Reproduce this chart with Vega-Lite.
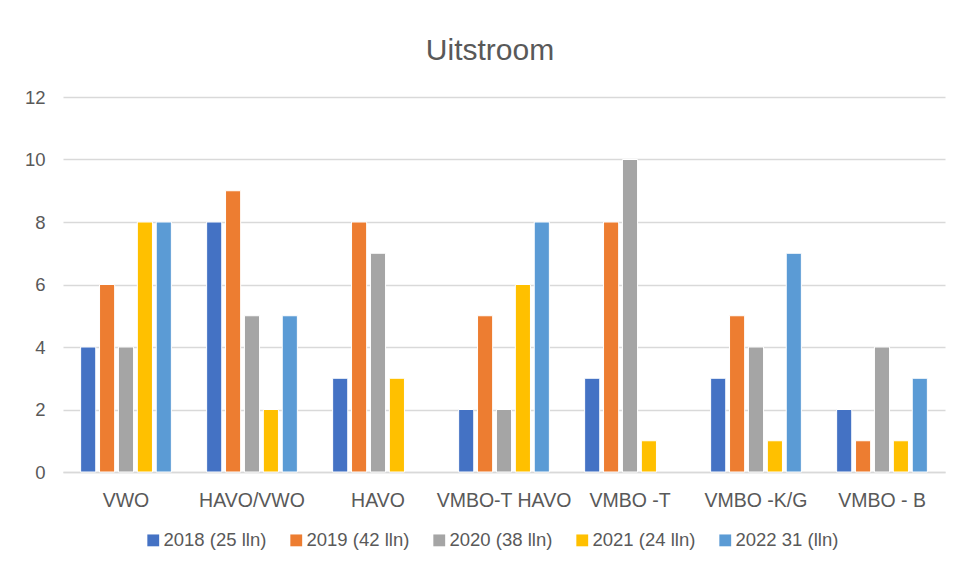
{
  "$schema": "https://vega.github.io/schema/vega-lite/v6.json",
  "width": 882,
  "height": 375,
  "autosize": {"type": "none"},
  "padding": {"left": 63, "top": 97, "right": 12, "bottom": 93},
  "background": "white",
  "title": {
    "text": "Uitstroom",
    "fontSize": 30,
    "font": "Liberation Sans",
    "fontWeight": "normal",
    "color": "#595959",
    "anchor": "middle",
    "offset": 22,
    "dx": -14
  },
  "data": {
    "values": [
      {"cat": "VWO", "serie": "2018 (25 lln)", "value": 4},
      {"cat": "VWO", "serie": "2019 (42 lln)", "value": 6},
      {"cat": "VWO", "serie": "2020 (38 lln)", "value": 4},
      {"cat": "VWO", "serie": "2021 (24 lln)", "value": 8},
      {"cat": "VWO", "serie": "2022 31 (lln)", "value": 8},
      {"cat": "HAVO/VWO", "serie": "2018 (25 lln)", "value": 8},
      {"cat": "HAVO/VWO", "serie": "2019 (42 lln)", "value": 9},
      {"cat": "HAVO/VWO", "serie": "2020 (38 lln)", "value": 5},
      {"cat": "HAVO/VWO", "serie": "2021 (24 lln)", "value": 2},
      {"cat": "HAVO/VWO", "serie": "2022 31 (lln)", "value": 5},
      {"cat": "HAVO", "serie": "2018 (25 lln)", "value": 3},
      {"cat": "HAVO", "serie": "2019 (42 lln)", "value": 8},
      {"cat": "HAVO", "serie": "2020 (38 lln)", "value": 7},
      {"cat": "HAVO", "serie": "2021 (24 lln)", "value": 3},
      {"cat": "VMBO-T HAVO", "serie": "2018 (25 lln)", "value": 2},
      {"cat": "VMBO-T HAVO", "serie": "2019 (42 lln)", "value": 5},
      {"cat": "VMBO-T HAVO", "serie": "2020 (38 lln)", "value": 2},
      {"cat": "VMBO-T HAVO", "serie": "2021 (24 lln)", "value": 6},
      {"cat": "VMBO-T HAVO", "serie": "2022 31 (lln)", "value": 8},
      {"cat": "VMBO -T", "serie": "2018 (25 lln)", "value": 3},
      {"cat": "VMBO -T", "serie": "2019 (42 lln)", "value": 8},
      {"cat": "VMBO -T", "serie": "2020 (38 lln)", "value": 10},
      {"cat": "VMBO -T", "serie": "2021 (24 lln)", "value": 1},
      {"cat": "VMBO -K/G", "serie": "2018 (25 lln)", "value": 3},
      {"cat": "VMBO -K/G", "serie": "2019 (42 lln)", "value": 5},
      {"cat": "VMBO -K/G", "serie": "2020 (38 lln)", "value": 4},
      {"cat": "VMBO -K/G", "serie": "2021 (24 lln)", "value": 1},
      {"cat": "VMBO -K/G", "serie": "2022 31 (lln)", "value": 7},
      {"cat": "VMBO - B", "serie": "2018 (25 lln)", "value": 2},
      {"cat": "VMBO - B", "serie": "2019 (42 lln)", "value": 1},
      {"cat": "VMBO - B", "serie": "2020 (38 lln)", "value": 4},
      {"cat": "VMBO - B", "serie": "2021 (24 lln)", "value": 1},
      {"cat": "VMBO - B", "serie": "2022 31 (lln)", "value": 3}
    ]
  },
  "mark": {"type": "bar", "stroke": "white", "strokeWidth": 1},
  "encoding": {
    "x": {
      "field": "cat",
      "type": "nominal",
      "sort": null,
      "scale": {"paddingInner": 0.28, "paddingOuter": 0.14},
      "axis": {
        "title": null,
        "labelAngle": 0,
        "labelFont": "Liberation Sans",
        "labelFontSize": 19.5,
        "labelColor": "#595959",
        "labelPadding": 19,
        "ticks": false,
        "domainColor": "#d9d9d9",
        "domainWidth": 1.5,
        "grid": false
      }
    },
    "xOffset": {
      "field": "serie",
      "type": "nominal",
      "sort": null,
      "scale": {"paddingInner": 0.2, "paddingOuter": 0}
    },
    "y": {
      "field": "value",
      "type": "quantitative",
      "scale": {"domain": [0, 12], "nice": false},
      "axis": {
        "title": null,
        "values": [0, 2, 4, 6, 8, 10, 12],
        "labelFont": "Liberation Sans",
        "labelFontSize": 18.5,
        "labelColor": "#595959",
        "labelPadding": 18,
        "ticks": false,
        "domain": false,
        "gridColor": "#d9d9d9",
        "gridWidth": 1.5
      }
    },
    "color": {
      "field": "serie",
      "type": "nominal",
      "sort": null,
      "scale": {
        "domain": ["2018 (25 lln)", "2019 (42 lln)", "2020 (38 lln)", "2021 (24 lln)", "2022 31 (lln)"],
        "range": ["#4472C4", "#ED7D31", "#A5A5A5", "#FFC000", "#5B9BD5"]
      },
      "legend": {
        "title": null,
        "orient": "none",
        "legendX": 81,
        "legendY": 434,
        "direction": "horizontal",
        "symbolType": "square",
        "symbolSize": 140,
        "symbolStrokeWidth": 0,
        "labelFont": "Liberation Sans",
        "labelFontSize": 18.5,
        "labelColor": "#595959",
        "labelOffset": 1,
        "columnPadding": 20
      }
    }
  },
  "config": {
    "view": {"stroke": null}
  }
}
